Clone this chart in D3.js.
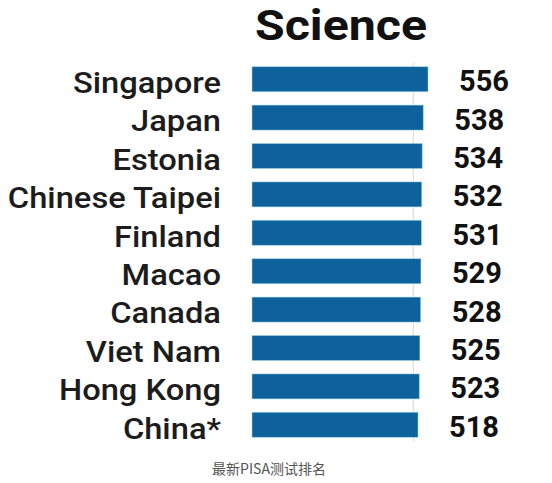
<!DOCTYPE html>
<html>
<head>
<meta charset="utf-8">
<script src="https://cdn.jsdelivr.net/npm/d3@7"></script>
<style>
  html, body { margin: 0; padding: 0; background: #ffffff; }
  svg { display: block; }
</style>
</head>
<body>
<svg id="chart" width="552" height="483"></svg>
<script>
const title = "Science";
const countries = ["Singapore", "Japan", "Estonia", "Chinese Taipei", "Finland", "Macao", "Canada", "Viet Nam", "Hong Kong", "China*"];
const scores = [556, 538, 534, 532, 531, 529, 528, 525, 523, 518];
const gridValues = [500];
const caption = "最新PISA测试排名";

const svg = d3.select("#chart");

const x = d3.scaleLinear().domain([-113, 556]).range([252, 428]);
const y = d3.scaleBand().domain(countries).range([60, 444]).paddingInner(0.35).paddingOuter(0.175);

// faint gridline
svg.selectAll("line.grid").data(gridValues).join("line")
  .attr("class", "grid")
  .attr("x1", d => x(d)).attr("x2", d => x(d))
  .attr("y1", y(countries[0]) - 4).attr("y2", y(countries[countries.length - 1]) + y.bandwidth() + 4)
  .attr("stroke", "#d8d8d8").attr("stroke-width", 1);

// bars
svg.selectAll("rect.bar").data(countries).join("rect")
  .attr("class", "bar")
  .attr("x", x.range()[0])
  .attr("y", d => y(d))
  .attr("width", (d, i) => x(scores[i]) - x.range()[0])
  .attr("height", y.bandwidth())
  .attr("fill", "#0d629c")
  .attr("stroke", "#9fd6ea").attr("stroke-width", 0.8).attr("stroke-opacity", 0.6);

// country labels (slightly widened glyphs as in the reference)
svg.selectAll("text.label").data(countries).join("text")
  .attr("class", "label")
  .attr("transform", d => `translate(221,${y(d) + y.bandwidth() / 2 + 3}) scale(1.09,1)`)
  .attr("dy", "0.36em")
  .attr("text-anchor", "end")
  .attr("font-family", "Roboto, 'Noto Sans', sans-serif")
  .attr("font-weight", 500)
  .attr("font-size", 30)
  .attr("fill", "#1c1c1c")
  .text(d => d);

// value labels
svg.selectAll("text.value").data(countries).join("text")
  .attr("class", "value")
  .attr("x", (d, i) => x(scores[i]) + 31)
  .attr("y", d => y(d) + y.bandwidth() / 2 + 1.5)
  .attr("dy", "0.36em")
  .attr("text-anchor", "start")
  .attr("font-family", "Roboto, 'Noto Sans', sans-serif")
  .attr("font-weight", 700)
  .attr("font-size", 29)
  .attr("fill", "#111111")
  .text((d, i) => scores[i]);

// title
svg.append("text")
  .attr("transform", "translate(341,40) scale(1.15,1)")
  .attr("text-anchor", "middle")
  .attr("font-family", "Roboto, 'Noto Sans', sans-serif")
  .attr("font-weight", 700)
  .attr("font-size", 42)
  .attr("fill", "#111111")
  .text(title);

// caption
svg.append("text")
  .attr("x", 269).attr("y", 474)
  .attr("text-anchor", "middle")
  .attr("font-family", "'Noto Sans CJK SC', 'Noto Sans', sans-serif")
  .attr("font-size", 14)
  .attr("fill", "#555555")
  .text(caption);
</script>
</body>
</html>
